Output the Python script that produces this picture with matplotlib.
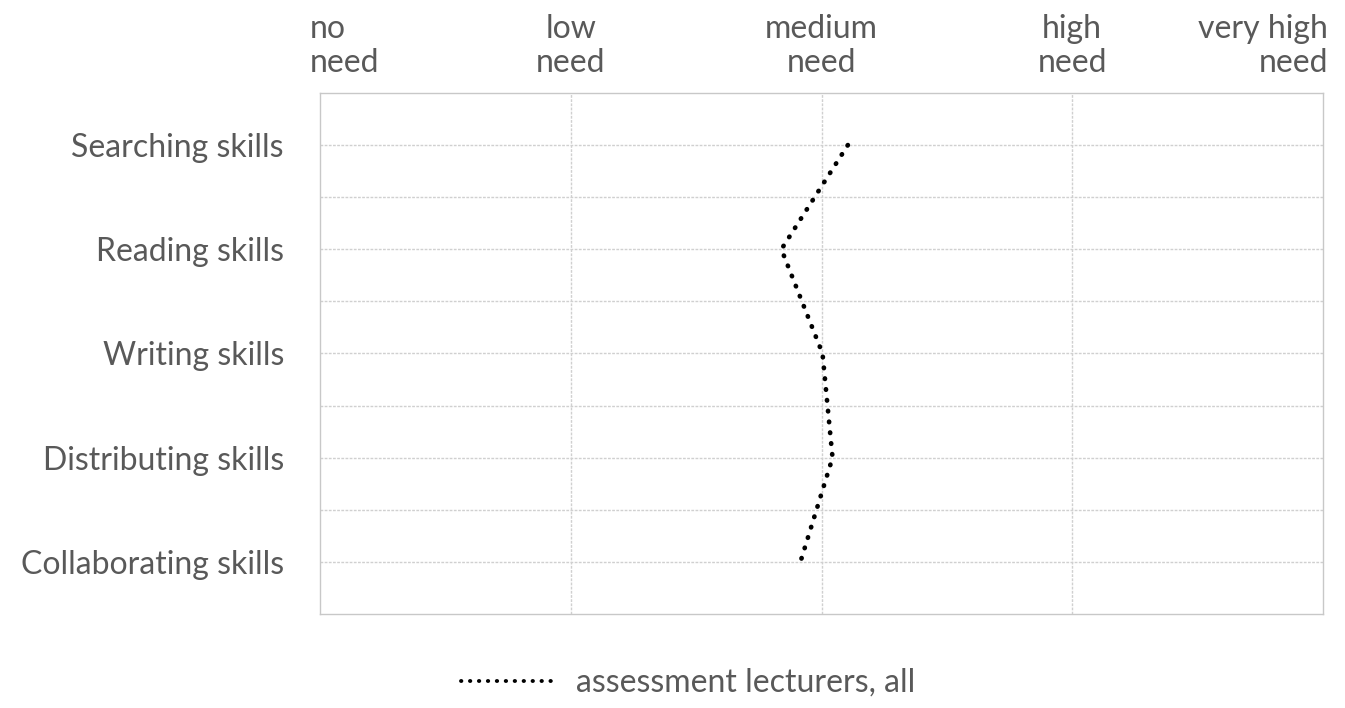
import matplotlib
matplotlib.use("Agg")
import matplotlib.pyplot as plt
from matplotlib.transforms import ScaledTranslation
import numpy as np

categories = ["Searching skills", "Reading skills", "Writing skills",
              "Distributing skills", "Collaborating skills"]
values = [3.105, 2.84, 3.004, 3.044, 2.916]
x_ticks = [1, 2, 3, 4, 5]
x_labels = ["no\nneed", "low\nneed", "medium\nneed", "high\nneed", "very high\nneed"]
series_name = "assessment lecturers, all"

plt.rcParams['font.family'] = ['Lato', 'DejaVu Sans']
txt = '#595959'
grid = '#d0d0d0'
fs = 23

fig = plt.figure(figsize=(13.45, 7.08), dpi=100)
ax = fig.add_axes([320/1345, 1-614/708, (1323-320)/1345, (614-93)/708])

y = np.arange(len(categories))
line, = ax.plot(values, y, color='black', lw=3.4, linestyle=(0, (0.1, 2.2)),
                dash_capstyle='round', label=series_name)

ax.set_xlim(1, 5)
ax.set_ylim(len(categories) - 0.5, -0.5)

# grid
for xv in x_ticks[1:-1]:
    ax.axvline(xv, color=grid, lw=1, ls=(0, (2, 1)), zorder=0)
for yv in np.arange(-0.5, len(categories), 0.5)[1:]:
    if yv < len(categories) - 0.5:
        ax.axhline(yv, color=grid, lw=1, ls=(0, (2, 1)), zorder=0)
for s in ax.spines.values():
    s.set_color('#c8c8c8')
    s.set_linewidth(1)

ax.set_yticks(y)
ax.set_yticklabels(categories, fontsize=fs, color=txt)
ax.tick_params(axis='y', length=0, pad=26)

ax.xaxis.tick_top()
ax.set_xticks(x_ticks)
ax.set_xticklabels(x_labels, fontsize=fs, color=txt, linespacing=1.15)
ax.tick_params(axis='x', length=0, pad=11)
labs = ax.get_xticklabels()
labs[0].set_ha('left'); labs[0].set_multialignment('left')
labs[0].set_transform(labs[0].get_transform() + ScaledTranslation(-10/100, 0, fig.dpi_scale_trans))
labs[-1].set_ha('right'); labs[-1].set_multialignment('right')
labs[-1].set_transform(labs[-1].get_transform() + ScaledTranslation(5/100, 0, fig.dpi_scale_trans))
for l in labs[1:-1]:
    l.set_multialignment('center')

leg = fig.legend(handles=[line], loc='center', bbox_to_anchor=(688/1345, 1-683/708),
                 frameon=False, fontsize=fs, handlelength=3.0, handletextpad=0.6)
for t in leg.get_texts():
    t.set_color(txt)
for h in leg.legend_handles:
    h.set_linewidth(2.8)

fig.savefig("out.png", dpi=100)
